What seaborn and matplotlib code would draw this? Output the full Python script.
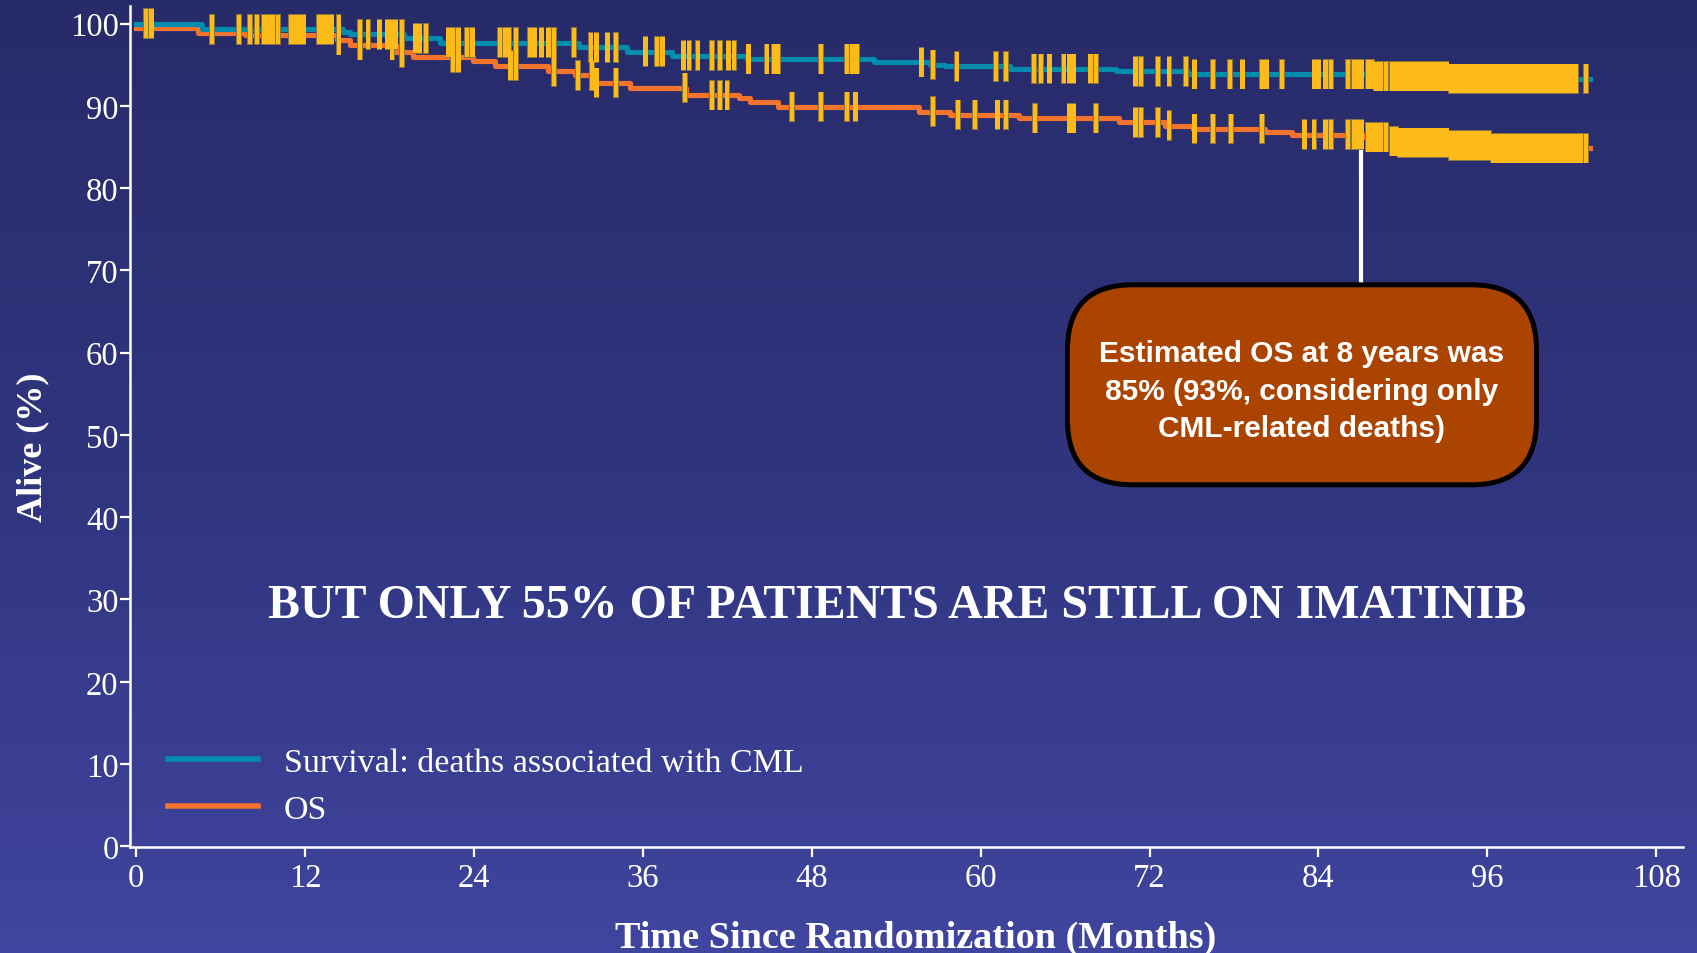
import numpy as np
import pandas as pd
import seaborn as sns
import matplotlib.pyplot as plt
from matplotlib.patches import FancyBboxPatch
from matplotlib.colors import LinearSegmentedColormap

# Kaplan-Meier steps: start of each step (months) and % alive
cml_time = [0, 4.66, 14.7, 15.2, 19.0, 21.6, 31.5, 34.85, 38.05, 43.4, 52.4, 56.4,
            57.5, 62.1, 69.65, 74.7, 87.9, 93.3, 103.3]
cml_surv = [100, 99.3, 99.0, 98.7, 98.2, 97.7, 97.1, 96.6, 96.1, 95.7, 95.3, 95.0,
            94.8, 94.5, 94.2, 93.85, 93.6, 93.3, 93.3]

os_time = [0, 4.43, 7.74, 14.25, 15.2, 18.5, 19.7, 23.96, 25.5, 29.3, 31.2, 32.7,
           35.1, 39.1, 42.8, 43.6, 45.6, 55.6, 57.8, 62.7, 69.8, 73.1, 75.1, 80.2,
           82.1, 87.2, 89.1, 89.7, 93.3, 96.4, 103.3]
os_surv = [99.5, 98.9, 98.6, 98.0, 97.4, 96.5, 95.9, 95.5, 94.9, 94.2, 93.7, 92.8,
           92.2, 91.3, 91.0, 90.5, 89.9, 89.3, 88.9, 88.5, 88.0, 87.6, 87.2, 86.8,
           86.5, 86.2, 85.7, 85.5, 85.2, 84.85, 84.85]

# censored patients (tick marks), months
late_censor = [87.5, 87.8, 88.1, 88.4, 88.8, 89.2, 89.5, 89.8, 90.1, 90.4, 90.7, 91.0,
               91.3, 91.6, 91.9, 92.2, 92.5, 92.8, 93.1, 93.4, 93.7, 94.0, 94.3, 94.6,
               94.9, 95.2, 95.5, 95.8, 96.1, 96.4, 96.7, 97.0, 97.3, 97.6, 97.9, 98.2,
               98.5, 98.8, 99.1, 99.4, 99.7, 100.0, 100.3, 100.6, 100.9, 101.2, 101.5,
               101.8, 102.1, 102.3, 103.0]
cml_censor = [0.7, 1.1, 5.4, 7.3, 8.1, 8.6, 9.1, 9.4, 9.7, 10.1, 11.0, 11.3, 11.6, 11.9,
              13.0, 13.3, 13.6, 13.9, 14.4, 15.9, 16.5, 17.3, 17.85, 18.15, 18.45, 18.9,
              19.85, 20.15, 20.6, 22.2, 22.5, 22.9, 23.5, 23.9, 25.85, 26.2, 26.5, 27.0,
              28.0, 28.3, 28.8, 29.3, 29.7, 31.1, 32.3, 32.7, 33.5, 34.1, 36.2, 37.0,
              37.4, 38.9, 39.3, 39.9, 40.9, 41.5, 42.1, 42.5, 43.5, 44.8, 45.3, 45.6,
              48.65, 50.5, 50.9, 51.2, 55.8, 56.6, 58.3, 61.1, 61.8, 63.8, 64.3, 64.9,
              65.9, 66.3, 66.6, 67.8, 68.2, 71.0, 71.4, 72.6, 73.4, 74.6, 75.2, 76.5,
              77.7, 78.6, 80.0, 80.3, 81.4, 83.7, 84.0, 84.5, 84.9, 86.1, 86.5, 86.8,
              87.05] + late_censor
os_censor = [14.4, 15.9, 18.2, 18.9, 22.5, 22.9, 26.6, 27.0, 29.7, 31.4, 32.4, 32.7,
             34.1, 39.0, 40.9, 41.5, 42.0, 46.6, 48.65, 50.5, 51.1, 56.6, 58.4, 59.6,
             61.2, 61.8, 63.85, 66.3, 66.6, 68.2, 71.0, 71.4, 72.6, 73.4, 75.2, 76.5,
             77.8, 80.0, 83.0, 83.7, 84.5, 84.9, 86.1, 86.5, 86.8, 87.05] + late_censor + [102.6]

x_ticks = list(range(0, 109, 12))
y_ticks = list(range(0, 101, 10))

connector_x = 87.0
connector_y = [85.6, 68.3]

teal = '#008CAF'
orange = '#F4732D'
yellow = '#FDBB19'


def level_at(times, surv, pts):
    idx = np.searchsorted(times, pts, side='right') - 1
    return np.asarray(surv)[idx]


cml = pd.DataFrame({'month': cml_time, 'alive': cml_surv})
os_df = pd.DataFrame({'month': os_time, 'alive': os_surv})
cml_c = pd.DataFrame({'month': cml_censor, 'alive': level_at(cml_time, cml_surv, cml_censor)})
os_c = pd.DataFrame({'month': os_censor, 'alive': level_at(os_time, os_surv, os_censor)})

plt.rcParams['font.family'] = ['Liberation Serif', 'DejaVu Serif']

fig = plt.figure(figsize=(16.97, 9.54), dpi=100)

# slide background gradient
bg = fig.add_axes([0, 0, 1, 1], zorder=-10)
grad = LinearSegmentedColormap.from_list('bg', ['#282B69', '#30357F', '#40459F'])
bg.imshow(np.linspace(0, 1, 256).reshape(-1, 1), aspect='auto', cmap=grad,
          extent=[0, 1, 0, 1])
bg.axis('off')

ax = fig.add_axes([0.0766, 0.111, 0.9152, 0.8813])
ax.set_facecolor('none')

sns.lineplot(data=os_df, x='month', y='alive', ax=ax, color=orange, lw=3.7,
             drawstyle='steps-post', label='OS', zorder=3)
sns.lineplot(data=cml, x='month', y='alive', ax=ax, color=teal, lw=3.7,
             drawstyle='steps-post', label='Survival: deaths associated with CML', zorder=4)

# censor ticks: dark under-layer gives the thin outline, yellow on top
bar_dark = [(-0.09, -0.5), (0.09, -0.5), (0.09, 0.5), (-0.09, 0.5), (-0.09, -0.5)]
bar = [(-0.075, -0.5), (0.075, -0.5), (0.075, 0.5), (-0.075, 0.5), (-0.075, -0.5)]
for d in (os_c, cml_c):
    sns.scatterplot(data=d, x='month', y='alive', ax=ax, marker=bar_dark, s=21.9 ** 2,
                    color='#8a7440', edgecolor='none', linewidth=0, zorder=5,
                    legend=False)
for d in (os_c, cml_c):
    sns.scatterplot(data=d, x='month', y='alive', ax=ax, marker=bar, s=20.9 ** 2,
                    color=yellow, edgecolor='none', linewidth=0, zorder=6,
                    legend=False)

ax.vlines(connector_x, connector_y[1], connector_y[0], color='white', lw=3.0, zorder=2)

ax.set_xlim(-0.43, 109.9)
ax.set_ylim(-0.1, 102.1)
ax.set_xticks(x_ticks)
ax.set_yticks(y_ticks)
ax.set_xlabel('')
ax.set_ylabel('')
for s in ['top', 'right']:
    ax.spines[s].set_visible(False)
for s in ['left', 'bottom']:
    ax.spines[s].set_color('white')
    ax.spines[s].set_linewidth(1.8)
ax.tick_params(axis='both', colors='white', labelsize=23.5, length=7.2, width=1.6,
               direction='out')
ax.tick_params(axis='x', pad=4)
ax.tick_params(axis='y', pad=1)

# legend: teal first, then orange
h, l = ax.get_legend_handles_labels()
leg = ax.legend(h[::-1], l[::-1], loc='center left', bbox_to_anchor=(0.099, 0.1749),
                bbox_transform=fig.transFigure, frameon=False, fontsize=24.5,
                handlelength=2.65, handletextpad=0.75, labelspacing=0.46,
                borderpad=0, borderaxespad=0)
for t in leg.get_texts():
    t.set_color('white')
for ln in leg.get_lines():
    ln.set_linewidth(4.0)

# axis titles and slide text
fig.text(0.0191, 0.5314, 'Alive (%)', rotation=90, ha='center', va='center',
         fontsize=26, fontweight='bold', color='white')
fig.text(0.5398, 0.0063, 'Time Since Randomization (Months)', ha='center',
         va='baseline', fontsize=27.5, fontweight='bold', color='white')
fig.text(0.5288, 0.3648, 'BUT ONLY 55% OF PATIENTS ARE STILL ON IMATINIB',
         ha='center', va='center', fontsize=34.5, fontweight='bold', color='white')

box = FancyBboxPatch((10.675, 4.682), 4.69, 2.0,
                     boxstyle='round,pad=0,rounding_size=0.65',
                     transform=fig.dpi_scale_trans, facecolor='#AA4400',
                     edgecolor='black', linewidth=3.6, zorder=6)
fig.patches.append(box)
fig.text(0.7672, 0.5895, 'Estimated OS at 8 years was\n85% (93%, considering only\nCML-related deaths)',
         ha='center', va='center', multialignment='center', fontsize=21.5,
         fontweight='bold', family=['Liberation Sans', 'DejaVu Sans'], color='white',
         linespacing=1.43, zorder=7)

fig.savefig('out.png', dpi=100)
